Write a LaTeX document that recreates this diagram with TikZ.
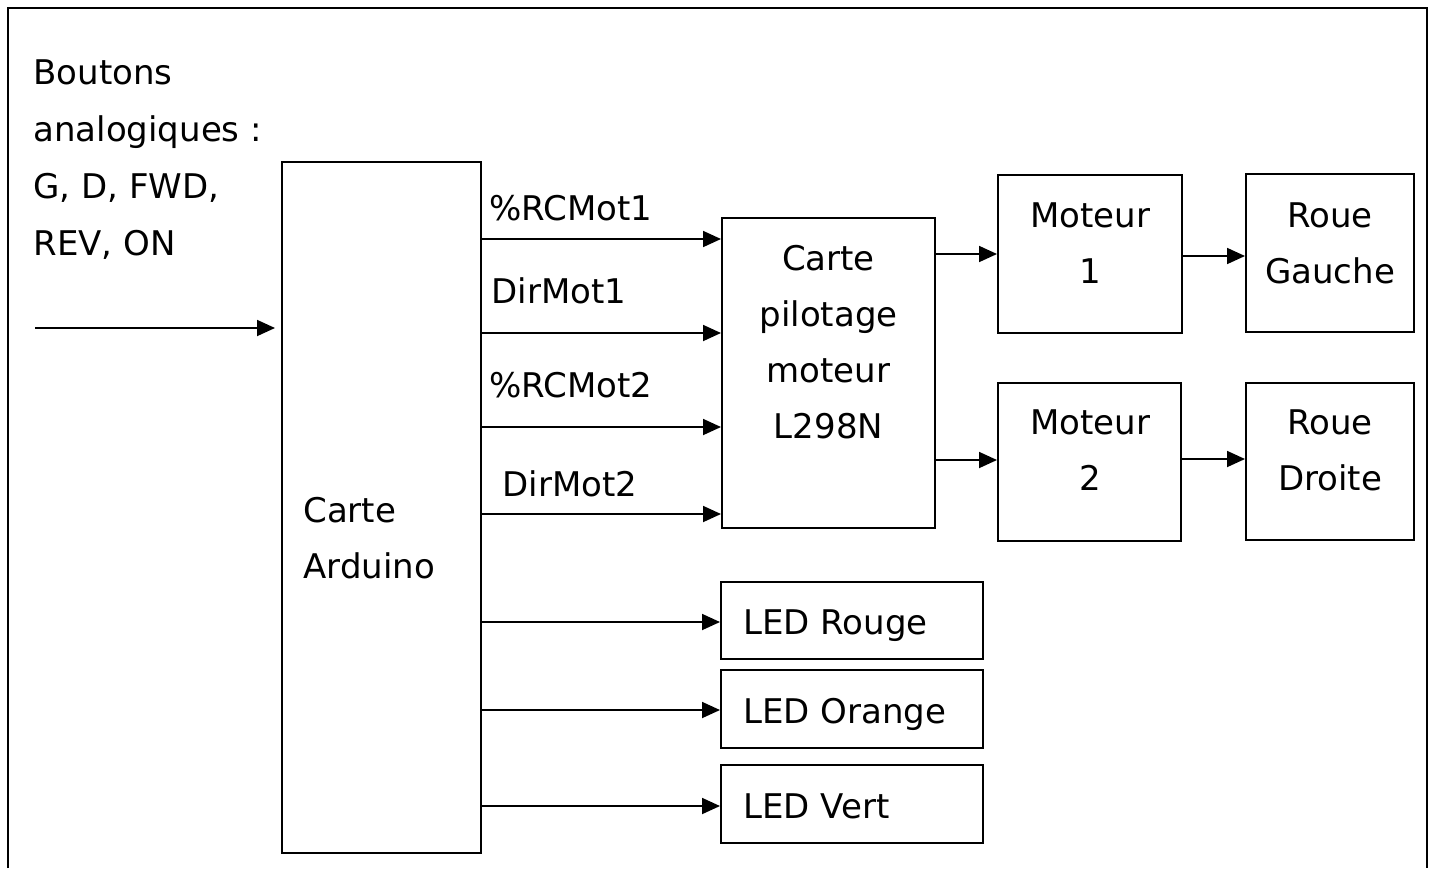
\documentclass[tikz,border=0pt]{standalone}
\usepackage{fontspec}
\setmainfont{DejaVu Sans}
\usepackage{tikz}
\usetikzlibrary{positioning,calc,arrows.meta}

\begin{document}
\begin{tikzpicture}[x=0.5pt,y=-0.5pt,
  blk/.style={rectangle,draw,line width=1pt,inner sep=0pt},
  txt/.style={inner sep=0pt,font=\fontsize{17}{28}\selectfont},
  sig/.style={line width=0.9pt,-{Triangle[length=9pt,width=8pt]}},
  frm/.style={line width=1.1pt}]
  \useasboundingbox (0,0) rectangle (1433,868);
  \draw[frm] (8,868) -- (8,8) -- (1427,8) -- (1427,868);
  % blocs
  \node[blk,minimum width=99.5pt,minimum height=345.5pt] (ard) at (381.5,507.5) {};
  \node[blk,minimum width=106.5pt,minimum height=155pt] (pil) at (828.5,373) {};
  \node[blk,minimum width=92pt,minimum height=79pt] (m1) at (1090,254) {};
  \node[blk,minimum width=84pt,minimum height=79pt] (rg) at (1330,253) {};
  \node[blk,minimum width=91.5pt,minimum height=79pt] (m2) at (1089.5,462) {};
  \node[blk,minimum width=84pt,minimum height=78.5pt] (rd) at (1330,461.5) {};
  \node[blk,minimum width=131pt,minimum height=38.5pt] (ledr) at (852,620.5) {};
  \node[blk,minimum width=131pt,minimum height=39pt] (ledo) at (852,709) {};
  \node[blk,minimum width=131pt,minimum height=39pt] (ledv) at (852,804) {};
  % textes (ancre sur la derniere ligne)
  \node[txt,anchor=base west,align=left,font=\fontsize{17}{28.5}\selectfont] (btn) at (33,255)
    {Boutons\\analogiques :\\G, D, FWD,\\REV, ON};
  \node[txt,anchor=base west,align=left] (tard) at (303,578) {Carte\\Arduino};
  \node[txt,anchor=base,align=center] (tpil) at (828.5,438)
    {Carte\\pilotage\\moteur\\L298N};
  \node[txt,anchor=base,align=center] (tm1) at (1090,283) {Moteur\\1};
  \node[txt,anchor=base,align=center] (trg) at (1330,283) {Roue\\Gauche};
  \node[txt,anchor=base,align=center] (tm2) at (1090,490) {Moteur\\2};
  \node[txt,anchor=base,align=center] (trd) at (1330,490) {Roue\\Droite};
  \node[txt,anchor=base west] (tledr) at (743,634) {LED Rouge};
  \node[txt,anchor=base west] (tledo) at (743,723) {LED Orange};
  \node[txt,anchor=base west] (tledv) at (743,818) {LED Vert};
  \node[txt,anchor=base west] (rc1) at (489,220) {\%RCMot1};
  \node[txt,anchor=base west] (dir1) at (491,303) {DirMot1};
  \node[txt,anchor=base west] (rc2) at (489,397) {\%RCMot2};
  \node[txt,anchor=base west] (dir2) at (502,496) {DirMot2};
  % liaisons
  \coordinate (in) at (35,328);
  \draw[sig,shorten >=3pt] (in) -- (ard.west |- in);
  \foreach \y in {239,333,427,514}
    \draw[sig] (ard.east |- 0,\y) -- (pil.west |- 0,\y);
  \draw[sig] (pil.east |- 0,254) -- (m1.west |- 0,254);
  \draw[sig] (pil.east |- 0,460) -- (m2.west |- 0,460);
  \draw[sig] (m1.east |- 0,256) -- (rg.west |- 0,256);
  \draw[sig] (m2.east |- 0,459) -- (rd.west |- 0,459);
  \draw[sig] (ard.east |- 0,622) -- (ledr.west |- 0,622);
  \draw[sig] (ard.east |- 0,710) -- (ledo.west |- 0,710);
  \draw[sig] (ard.east |- 0,806) -- (ledv.west |- 0,806);
\end{tikzpicture}
\end{document}
